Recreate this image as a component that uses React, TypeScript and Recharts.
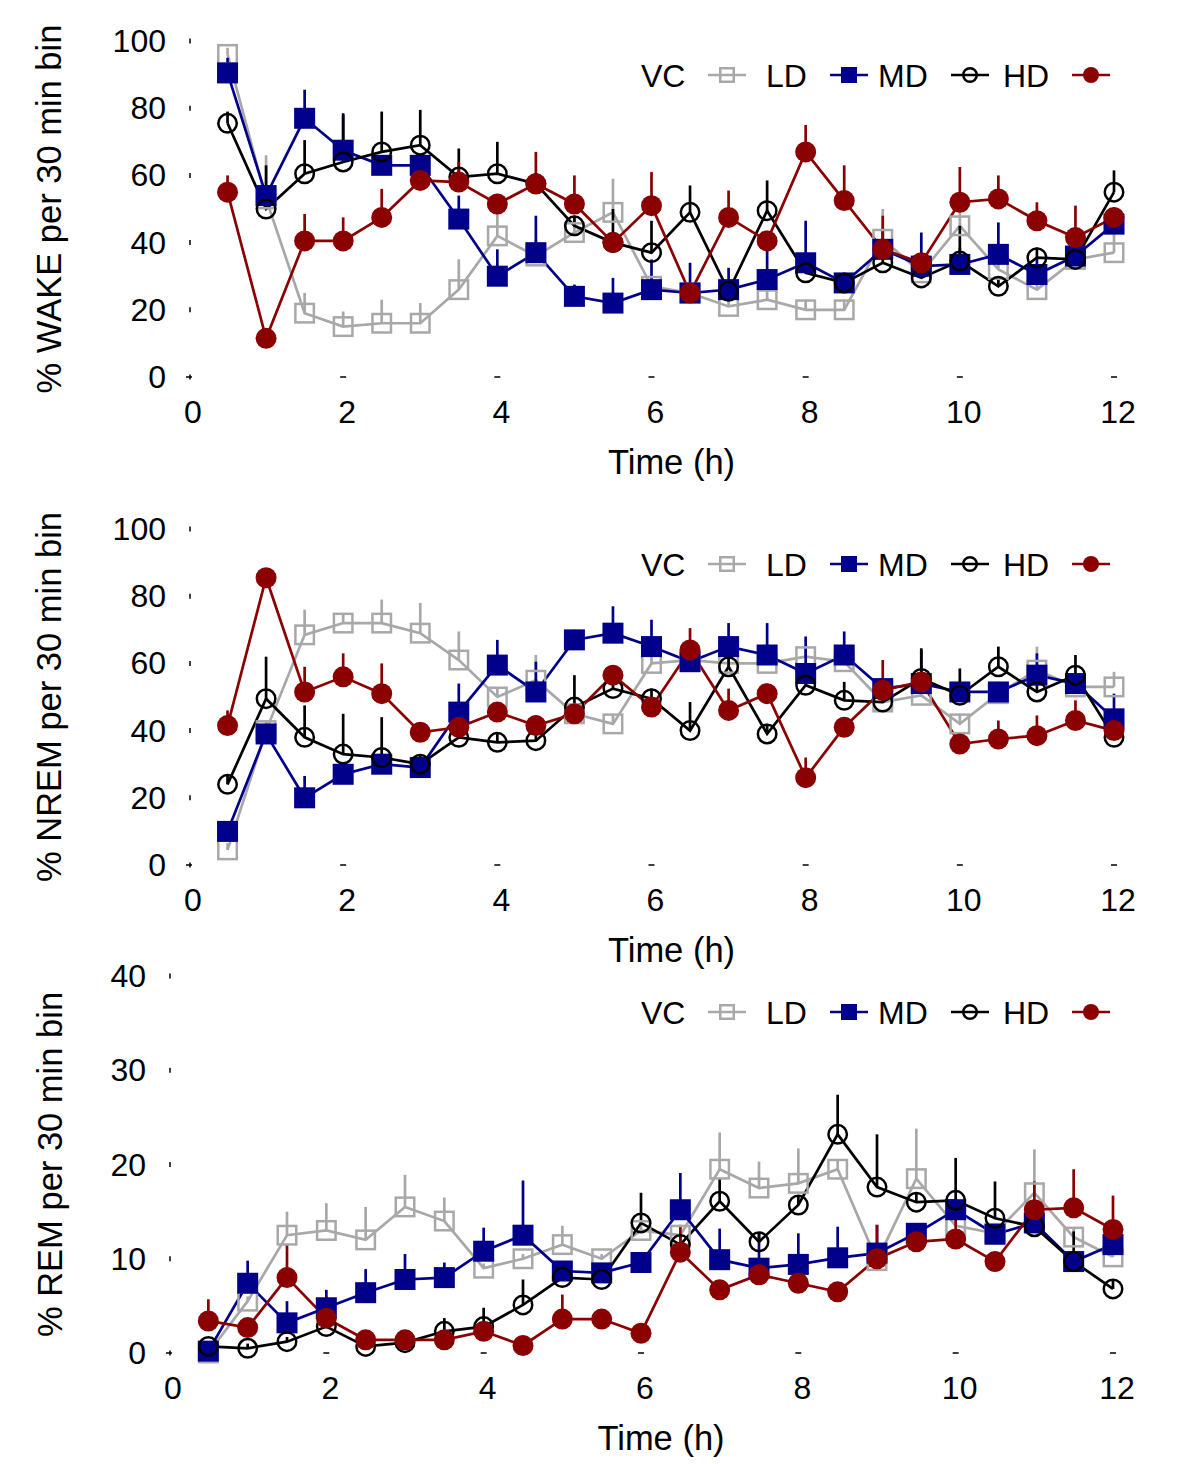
import React from 'react';
import { LineChart, Line, XAxis, YAxis, ErrorBar, Legend } from 'recharts';

const FONT = '"Liberation Sans", Arial, Helvetica, sans-serif';

// time bins (h)
const times = [0.5, 1, 1.5, 2, 2.5, 3, 3.5, 4, 4.5, 5, 5.5, 6, 6.5, 7, 7.5, 8, 8.5, 9, 9.5, 10, 10.5, 11, 11.5, 12];
const xTicks = [0, 2, 4, 6, 8, 10, 12];
const pctTicks = [0, 20, 40, 60, 80, 100];
const remTicks = [0, 10, 20, 30, 40];

// % WAKE
const wakeVC = [96, 53, 19, 15, 16, 16, 26, 42, 36, 43, 49, 27, 25, 21, 23, 20, 20, 41, 31, 45, 32, 26, 35, 37];
const wakeVCErr = [2, 13, 6, 4.5, 7, 6, 9, 8, 5, 5, 10, 3, 3, 3, 3, 3, 3, 9, 3, 6, 3, 3, 3, 6];
const wakeLD = [90.5, 54, 77, 67.5, 63, 63, 47, 30, 37, 24, 22, 26, 25, 26, 29, 34, 28, 38, 33, 33.5, 36.5, 30.5, 36, 45.5];
const wakeLDErr = [4.5, 3, 8.5, 10.5, 3, 2.5, 7, 8, 11, 3.5, 7.5, 9, 9, 6.5, 8.5, 12.5, 3, 6, 10, 5, 9.5, 5, 3, 3];
const wakeMD = [75.5, 50, 60.5, 64, 67, 69, 59.5, 60.5, 57.5, 45, 40, 37, 49, 25.5, 49.5, 31, 28, 34, 29.5, 34.5, 27, 35.5, 35, 55];
const wakeMDErr = [3.5, 13, 10, 14.5, 12, 10.5, 8.5, 9.5, 3, 3, 10, 9.5, 8, 3, 9, 3, 3, 3, 3, 10.5, 3, 3, 3, 6.5];
const wakeHD = [55, 11.5, 40.5, 40.5, 47.5, 58.5, 58, 51.5, 57.5, 51.5, 40, 51, 25, 47.5, 40.5, 67, 52.5, 38, 34, 52, 53, 46.5, 41.5, 47.5];
const wakeHDErr = [5, 1, 8, 7, 8.5, 3, 6, 3, 9.5, 8.5, 3, 10, 3, 8, 3, 8, 10.5, 10, 3, 10.5, 7, 5.5, 9.5, 3];

// % NREM
const nremVC = [4.5, 40, 68.5, 72, 72, 69, 61, 50, 55, 45, 42, 60, 61, 60, 60, 62, 60.5, 48.5, 50.5, 42, 51, 58, 53, 53];
const nremVCErr = [2, 3, 7.5, 3, 7, 9, 8.5, 3, 7.5, 3, 3, 3, 3, 3, 3, 3, 3, 3, 3, 3, 3, 7, 3, 4.5];
const nremLD = [10, 39, 20, 27, 30, 29, 45.5, 59.5, 51.5, 67, 69, 65, 60.5, 65, 62.5, 57, 62.5, 52.5, 54, 51.5, 51.5, 56.5, 54, 43.5];
const nremLDErr = [3, 3, 6.5, 3, 3, 3, 8.5, 7.5, 9, 3, 8, 8, 3, 7, 9.5, 11, 7, 3, 10, 3, 3, 6.5, 3, 7.5];
const nremMD = [24, 49.5, 38, 33, 32, 30, 38, 36.5, 37, 47, 52.5, 49.5, 40, 59, 39, 53.5, 49, 48.5, 55.5, 50.5, 59, 51.5, 56.5, 38];
const nremMDErr = [3, 12.5, 9.5, 12, 12, 3, 3, 3, 3, 9.5, 3, 3, 8.5, 3, 3, 3, 5.5, 3, 9, 8, 6, 3, 6, 3];
const nremHD = [41.5, 85.5, 51.5, 56, 51, 39.5, 41, 45.5, 41.5, 45, 56.5, 47, 64, 46, 51, 26, 41, 52, 54.5, 36, 37.5, 38.5, 43, 40];
const nremHDErr = [4.5, 1, 7.5, 7, 9, 3, 3, 3, 3, 3, 3, 3, 6.5, 6.5, 3, 6, 3, 9, 3, 3, 5.5, 6, 6, 3];

// % REM
const remVC = [0, 5.5, 12.5, 13, 12, 15.5, 14, 9, 10, 11.5, 10, 13, 12.5, 19.5, 17.5, 18, 19.5, 9.8, 18.5, 13.5, 12.7, 17, 12.3, 10.2];
const remVCErr = [0.5, 0.5, 2.5, 2.9, 3.5, 3.4, 2.5, 0.5, 0.5, 2, 0.5, 1, 1, 3.9, 2.8, 3.7, 1, 1, 5.3, 1, 1, 4.6, 1, 1];
const remLD = [0.2, 7.4, 3.2, 4.8, 6.4, 7.8, 8, 10.8, 12.5, 8.7, 8.5, 9.6, 15.2, 9.9, 9, 9.4, 10.1, 10.6, 12.7, 15.2, 12.6, 13.8, 9.7, 11.5];
const remLDErr = [0, 2.4, 2.3, 1.9, 2.5, 2.7, 1.6, 2.5, 5.8, 1, 1, 1, 3.9, 3.3, 3.7, 3.3, 3.3, 3, 1, 1, 1, 1, 1, 1];
const remMD = [0.7, 0.5, 1.2, 2.8, 0.7, 1.1, 2.3, 2.8, 5.1, 8, 7.8, 13.8, 11.5, 16.1, 11.8, 15.7, 23.2, 17.6, 16, 16.2, 14.3, 13.4, 9.7, 6.8];
const remMDErr = [0.5, 0.5, 0.5, 0.5, 0.5, 0.5, 1.4, 2, 2.7, 1, 1, 3.2, 1, 2.4, 1, 1, 4.2, 5.6, 1, 4.5, 3.9, 1, 3.2, 1];
const remHD = [3.4, 2.7, 8, 3.7, 1.4, 1.4, 1.4, 2.3, 0.8, 3.6, 3.6, 2.1, 10.7, 6.7, 8.3, 7.4, 6.5, 10, 11.8, 12.1, 9.7, 15.2, 15.4, 13.1];
const remHDErr = [2.3, 0.5, 3.5, 2.3, 0.5, 0.5, 0.5, 0.5, 0.5, 2.6, 0.5, 0.5, 2.9, 1, 1, 1, 1, 3.6, 1, 2.5, 1, 3, 4.1, 3.6];

const series = [
  { key: 'vc', name: 'VC', color: '#a8a8a8', shape: 'openSquare' },
  { key: 'ld', name: 'LD', color: '#00008b', shape: 'square' },
  { key: 'md', name: 'MD', color: '#000000', shape: 'openCircle' },
  { key: 'hd', name: 'HD', color: '#8b0000', shape: 'circle' },
];

function buildRows(vals: number[][], errs: number[][]) {
  return times.map((t, i) => {
    const row: any = { t };
    series.forEach((s, j) => {
      row[s.key] = vals[j][i];
      row[s.key + 'Err'] = [0, errs[j][i]];
    });
    return row;
  });
}

const wakeRows = buildRows([wakeVC, wakeLD, wakeMD, wakeHD], [wakeVCErr, wakeLDErr, wakeMDErr, wakeHDErr]);
const nremRows = buildRows([nremVC, nremLD, nremMD, nremHD], [nremVCErr, nremLDErr, nremMDErr, nremHDErr]);
const remRows = buildRows([remVC, remLD, remMD, remHD], [remVCErr, remLDErr, remMDErr, remHDErr]);

const Marker = ({ shape, color, cx, cy, size }: any) => {
  const h = size / 2;
  if (shape === 'openSquare')
    return <rect x={cx - h + 1.25} y={cy - h + 1.25} width={size - 2.5} height={size - 2.5} fill="none" stroke={color} strokeWidth={2.5} />;
  if (shape === 'square') return <rect x={cx - h} y={cy - h} width={size} height={size} fill={color} />;
  if (shape === 'openCircle') return <circle cx={cx} cy={cy} r={h - 1.25} fill="none" stroke={color} strokeWidth={2.5} />;
  return <circle cx={cx} cy={cy} r={h} fill={color} />;
};

const LegendBox = () => {
  // label first, then the symbol, like the original figure
  const items = [
    { text: 11, sym: 97 },
    { text: 136, sym: 219 },
    { text: 248, sym: 340 },
    { text: 373, sym: 461 },
  ];
  return (
    <svg width={500} height={50} style={{ overflow: 'visible' }}>
      {series.map((s, i) => (
        <g key={s.key}>
          <text x={items[i].text} y={36.5} fontSize={32} fontFamily={FONT} fill="#000">
            {s.name}
          </text>
          <line x1={items[i].sym - 19} x2={items[i].sym + 19} y1={25} y2={25} stroke={s.color} strokeWidth={2.5} />
          <Marker shape={s.shape} color={s.color} cx={items[i].sym} cy={25} size={16} />
        </g>
      ))}
    </svg>
  );
};

const Panel = ({ rows, yMax, yTicks, yLabel, plotLeft, labelX, height, legendTop }: any) => {
  const plotRight = plotLeft + (plotLeft === 189 ? 925 : 944);
  const plotTop = 41;
  const plotBottom = height - 111;
  const midX = (plotLeft + plotRight) / 2;
  const midY = (plotTop + plotBottom) / 2;

  const YTick = ({ x, y, payload }: any) => (
    <g>
      <line x1={x + 1} x2={x + 1} y1={y - 2.5} y2={y + 2.5} stroke="#000" strokeWidth={1.5} />
      <text x={x - 23} y={y + 11} textAnchor="end" fontSize={32} fontFamily={FONT} fill="#000">
        {payload.value}
      </text>
    </g>
  );
  const XTick = ({ x, y, payload }: any) => (
    <g>
      <line x1={x - 3} x2={x + 3} y1={y} y2={y} stroke="#000" strokeWidth={1.5} />
      <text x={x + 4} y={y + 46} textAnchor="middle" fontSize={32} fontFamily={FONT} fill="#000">
        {payload.value}
      </text>
    </g>
  );

  return (
    <LineChart
      width={1200}
      height={height}
      data={rows}
      margin={{ top: plotTop, right: 1200 - plotRight, bottom: 21, left: plotLeft - 100 }}
    >
      <XAxis
        type="number"
        dataKey="t"
        domain={[0, 12]}
        ticks={xTicks}
        axisLine={false}
        tickLine={false}
        tickSize={0}
        tickMargin={0}
        height={90}
        tick={<XTick />}
        label={() => (
          <text x={midX + 20} y={plotBottom + 97} textAnchor="middle" fontSize={34.5} fontFamily={FONT} fill="#000">
            Time (h)
          </text>
        )}
      />
      <YAxis
        type="number"
        domain={[0, yMax]}
        ticks={yTicks}
        axisLine={false}
        tickLine={false}
        tickSize={0}
        tickMargin={0}
        width={100}
        tick={<YTick />}
        label={() => (
          <text
            x={labelX}
            y={midY}
            transform={`rotate(-90, ${labelX}, ${midY})`}
            textAnchor="middle"
            dominantBaseline="central"
            fontSize={34.5}
            fontFamily={FONT}
            fill="#000"
          >
            {yLabel}
          </text>
        )}
      />
      <Legend
        layout="vertical"
        align="center"
        verticalAlign="middle"
        content={() => <LegendBox />}
        wrapperStyle={{ position: 'absolute', top: legendTop, left: 630, width: 500, height: 50 }}
      />
      {series.map((s) => (
        <Line
          key={s.key}
          dataKey={s.key}
          name={s.name}
          stroke={s.color}
          strokeWidth={2.7}
          isAnimationActive={false}
          dot={(p: any) => (
            <Marker key={`${s.key}-${p.index}`} shape={s.shape} color={s.color} cx={p.cx} cy={p.cy} size={21} />
          )}
          activeDot={false}
        >
          <ErrorBar dataKey={s.key + 'Err'} width={0} stroke={s.color} strokeWidth={2.7} direction="y" />
        </Line>
      ))}
    </LineChart>
  );
};

export default function App() {
  return (
    <div style={{ position: 'absolute', left: 0, top: 0, width: 1200, height: 1464, background: '#fff' }}>
      <div style={{ position: 'absolute', left: 0, top: 0 }}>
        <Panel rows={wakeRows} yMax={100} yTicks={pctTicks} yLabel="% WAKE per 30 min bin" plotLeft={189} labelX={49} height={488} legendTop={50} />
      </div>
      <div style={{ position: 'absolute', left: 0, top: 488 }}>
        <Panel rows={nremRows} yMax={100} yTicks={pctTicks} yLabel="% NREM per 30 min bin" plotLeft={189} labelX={49} height={488} legendTop={51} />
      </div>
      <div style={{ position: 'absolute', left: 0, top: 935 }}>
        <Panel rows={remRows} yMax={40} yTicks={remTicks} yLabel="% REM per 30 min bin" plotLeft={169} labelX={50} height={529} legendTop={52} />
      </div>
    </div>
  );
}
